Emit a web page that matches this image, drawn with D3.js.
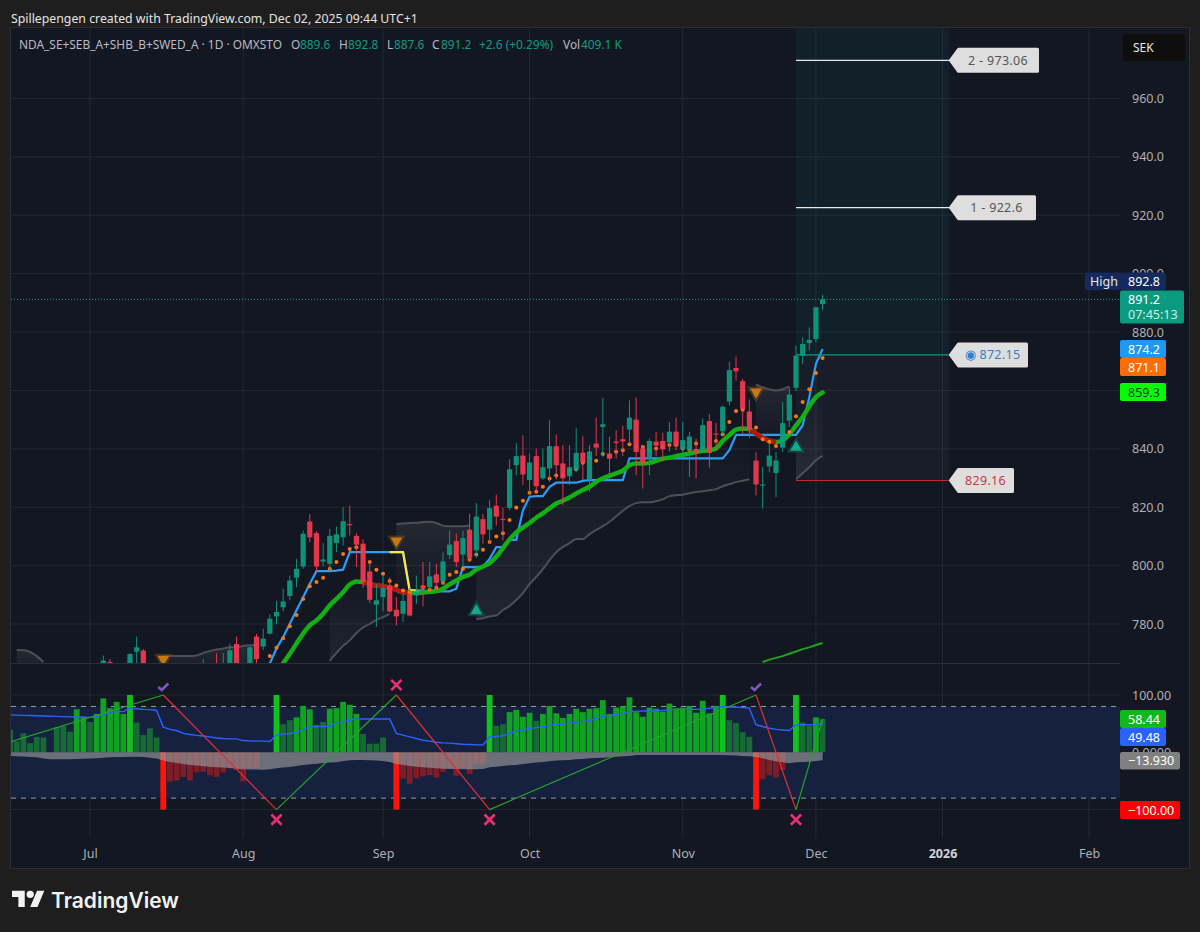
<!DOCTYPE html>
<html>
<head>
<meta charset="utf-8">
<script src="https://cdn.jsdelivr.net/npm/d3@7/dist/d3.min.js"></script>
<style>
  html, body { margin: 0; padding: 0; background: #1e1e1e; }
  svg { display: block; font-family: "Noto Sans", sans-serif; }
</style>
</head>
<body>
<svg id="chart" width="1200" height="932"></svg>
<script>
// bar number on the x axis, 0 = first bar on the left, 122 = Dec 2
const tickBars = [12, 35, 56, 78, 101, 121, 140, 162]
const tickLabels = ["Jul", "Aug", "Sep", "Oct", "Nov", "Dec", "2026", "Feb"]
const priceTicks = [780, 800, 820, 840, 860, 880, 900, 920, 940, 960]
const oscTicks = [100, 0, -100]

// candles that reach into the visible part of the price pane
const candleBars = [14, 15, 18, 19, 20, 29, 31, 32, 33, 34, 36, 37].concat(d3.range(38, 123))
const opens = [
  766, 767, 765, 770.5, 770.9, 764, 766, 762, 765, 773.2, 766, 775.7,
  772.3, 776.7, 782.6, 785.7, 789.6, 795.9, 799.7, 815.1, 811.1, 801.4,
  800.6, 807.7, 809.7, 814.2, 810.2, 807.5, 798, 786.6, 789.2, 793.2,
  784.9, 783.5, 790.1, 789.8, 793.2, 792.6, 797, 794.7, 803.6, 808.4,
  803.8, 812.3, 805.2, 815.9, 812.3, 820.5, 816, 819.8, 834.4, 837.7,
  829.3, 837.5, 829.9, 833.3, 840.9, 835, 830.6, 833, 838.7, 829.3,
  841.8, 847.5, 838.4, 842.5, 843.3, 846.6, 850, 840.1, 836.6, 842.5,
  842.7, 842.2, 845.9, 840, 839.5, 839.9, 839.5, 849.5, 845.2, 846,
  856.2, 867.7, 863.2, 852.8, 836, 827.4, 834, 831.7, 840.4, 849.7,
  860.9, 871.9, 876.2, 877.6, 889.6
]
const highs = [
  769.2, 768, 770, 775.7, 771.5, 768, 770, 770, 773.2, 775.7, 772.3, 776.6,
  778.4, 783.3, 787.9, 792.1, 796.6, 802.3, 812, 817.7, 811.8, 807.7,
  812.6, 813.4, 820, 820.6, 811.1, 809, 801.8, 793.6, 796.6, 796,
  789.2, 790.4, 792.4, 796.6, 801.2, 801.2, 800.6, 804.6, 812, 810.9,
  812, 817.7, 821.4, 817.7, 822.5, 824.3, 819.8, 836.5, 842, 844.7,
  838.4, 840.1, 840.1, 849.8, 844.9, 841.3, 841.3, 847.2, 844.3, 841.3,
  850.7, 857.4, 844.1, 846.4, 847.9, 856.6, 857.6, 840.9, 843.5, 845.8,
  845.5, 849.2, 850.7, 849.2, 845.8, 843.5, 850.4, 851.9, 848.9, 854.9,
  869.9, 871.6, 864, 856.9, 838.9, 833.8, 841.7, 838.9, 856, 861.1,
  875.4, 878.2, 881.6, 888.6, 892.8
]
const lows = [
  765, 765, 764, 765, 765, 763, 762, 760, 764, 764, 765, 766,
  771, 776.4, 779.9, 784.4, 788.1, 792.6, 798.9, 808, 798.1, 799.7,
  798.6, 804.6, 806.9, 810.3, 799.5, 792.4, 787.2, 779, 784.4, 784.1,
  779.5, 780.7, 782.6, 786.9, 786, 791.5, 791.5, 793.6, 802.3, 799.5,
  799.5, 801.2, 802.7, 807.5, 807.5, 813.7, 808.6, 819, 831, 827.6,
  824.2, 825, 829.3, 828.7, 829.5, 820.7, 827.6, 832.1, 829.3, 825.3,
  837.5, 837.3, 829.3, 836.7, 837.5, 841.6, 831, 826.4, 831, 837.5,
  835.9, 839, 839.5, 837.3, 830.4, 829.9, 838.6, 833.6, 839.3, 844.7,
  854.9, 863.4, 845.2, 843.8, 824.1, 819.5, 832, 823.5, 838.9, 847.4,
  859.8, 869.1, 873.7, 876.5, 887.6
]
const closes = [
  767.5, 765.5, 769.7, 772, 766, 766, 763, 766, 771, 765, 772, 768,
  775, 781.8, 784.1, 787.7, 794.9, 798.9, 810.9, 809.7, 799.7, 802.1,
  810.2, 810.7, 815.2, 813.8, 807.2, 794.4, 788.3, 788.1, 792.3, 784.3,
  782.6, 787.9, 782.9, 790.9, 792.3, 796.3, 794.1, 801.4, 807.2, 801.2,
  809.4, 802.7, 816.8, 810.7, 819.7, 816.8, 815.7, 833, 837.5, 831.2,
  835.3, 827.2, 833.7, 840.9, 834.4, 829.9, 833.7, 838.6, 835.3, 839.1,
  840.4, 848.4, 836.6, 842, 842.5, 850.7, 838.9, 835.3, 842.7, 841.1,
  839.8, 845.9, 841, 843, 844.2, 838.7, 848.1, 838.6, 844.9, 854.4,
  867, 866.6, 853.7, 846.5, 827.8, 827.8, 837.7, 836, 848.8, 858.6,
  871.9, 875.9, 877.3, 888.5, 891.2
]

// blue stepped line, bars 39..122
const stepStart = 39
const stepLine = [
  766.5, 771.6, 775.5, 780.1, 784.7, 789.2, 793.8, 798.1, 798.1, 798.1, 798.3, 798.6,
  804.6, 804.6, 804.6, 804.6, 804.6, 804.6, 804.6, 804.6, 804.6, 791.5, 791.5, 791.5,
  791.2, 791.2, 791.2, 791.2, 792.1, 799.5, 799.5, 799.5, 799.7, 802.3, 806.3, 806.3,
  808.8, 808.8, 818.9, 823.6, 823.8, 823.8, 827, 828.4, 828.4, 828.4, 828.4, 829,
  829.3, 829.3, 829.3, 829.3, 829.3, 829.3, 836.7, 836.7, 836.7, 836.7, 836.7, 836.7,
  836.7, 836.7, 836.7, 836.7, 836.7, 836.7, 836.7, 836.7, 836.7, 839.5, 844.8, 844.8,
  844.8, 844.8, 844.8, 844.8, 844.8, 844.8, 844.8, 844.8, 848, 857.7, 869.1, 874.2
]
const yellowBars = [57, 61]

// thick moving average, bars 41..122
const maStart = 41
const maLine = [
  766.5, 769.8, 773.3, 776.7, 779.5, 781.2, 783.5, 786.4, 788.6, 790.9, 793.5, 794.6,
  794.4, 793.6, 793.2, 792.9, 792.4, 791.7, 790.9, 790.6, 790.6, 790.8, 791, 791.3,
  792.1, 793.6, 794.9, 796.1, 796.9, 798.6, 799.7, 800.8, 803, 806, 809, 811.4,
  813, 814.6, 816.4, 817.9, 819.6, 821.3, 822.2, 823.3, 824.7, 825.9, 827, 828.7,
  829.9, 830.8, 831.6, 832.5, 834.4, 835, 835, 835.2, 835.9, 836.6, 837, 837.5,
  837.9, 838.4, 838.9, 839.3, 839.5, 840.1, 842.7, 844.7, 846.6, 847, 846.8, 845.2,
  843.8, 842.7, 842.3, 842.9, 844.9, 848, 850.9, 854.5, 857.7, 859.3
]
const maRedBars = [[53, 60], [111, 115]]

// orange dots, bars 39..122
const dotStart = 39
const dotLine = [
  769, 771.9, 775.1, 779.2, 783.1, 788.6, 792.9, 794.4, 795.8, 798.9, 801.2, 804,
  805.7, 806.3, 805.7, 801.2, 798.6, 797.2, 794.7, 793.2, 791.5, 790.9, 790.9, 792.6,
  791.7, 792.4, 794.1, 796.9, 797.8, 798.9, 802.1, 803.8, 805.4, 808.1, 810, 811.1,
  815.6, 819.9, 822.2, 825, 825.3, 827, 829.8, 830.9, 831, 832.7, 833, 835.2,
  837, 835.9, 838.2, 837.5, 839, 839.5, 841.6, 840.6, 840.6, 839.5, 840.1, 840.9,
  841.3, 841.3, 840.1, 839.8, 841.8, 840.1, 840.6, 842.7, 845, 849.2, 853, 853.4,
  851.5, 847.3, 843.3, 842.4, 841, 843.5, 845.8, 851.2, 856, 860.4, 866, 871.1
]

// grey band pieces, each with first bar and whether the line is above the average
const bandStarts = [1, 23, 48, 58, 70, 112, 118]
const bandIsTop = [true, true, false, true, false, true, false]
const bandValues = [
  [771.1, 771, 770.4, 769, 767],
  [768.9, 769, 769, 769, 769, 769.2, 770.1, 770.8, 771.3, 771.6, 772, 772.1, 772.5, 772.7, 772.8],
  [767.4, 770.1, 772.5, 774.4, 776.9, 778.8, 780, 781.4, 782.4, 783.5],
  [814.2, 814.4, 814.6, 814.7, 814.9, 815, 814.6, 813.7, 813.5, 813.5, 813.5, 813.7],
  [781.7, 782, 782.6, 782.9, 784.8, 786.2, 788.2, 790.6, 793.7, 796.1, 798.8, 801.9, 804.6, 806.4,
   807.7, 809.1, 809.1, 810.8, 812.2, 813.5, 815, 816.9, 818.8, 820.4, 821.4, 821.7, 821.7, 822.1,
   822.7, 823.8, 824.1, 824.3, 824.8, 825.2, 825.5, 825.8, 826.2, 827.2, 827.9, 828.6, 829.1, 829.6],
  [862.1, 861, 860.4, 860, 860.4, 861.4],
  [829.6, 831.6, 833.7, 836.1, 837.6]
]

// short green line at the bottom of the price pane, bars 113..122
const lowLineStart = 113
const lowLine = [767, 767.8, 768.4, 769, 769.8, 770.6, 771.4, 772, 772.8, 773.5]

const downBars = [23, 58, 112]
const downPrices = [768, 808.5, 859.5]
const upBars = [70, 118]
const upPrices = [784.5, 840.5]

// target box
const boxBars = [118, 141]
const targetTop = 973.06
const targetOne = 922.6
const entryPrice = 872.15
const stopPrice = 829.16

// oscillator pane, one value per bar 0..122
const histValues = [
  39, 19, 33, 16, 27, 26, 0, 44, 46, 36,
  75, 62, 53, 67, 94, 77, 88, 67, 100, 52,
  30, 42, 26, -100, -51, -49, -43, -49, -35, -34,
  -40, -43, -35, -28, -31, -51, -28, -28, 0, 0,
  100, 49, 56, 61, 81, 75, 48, 53, 76, 77,
  88, 83, 67, 32, 15, 15, 26, 0, -100, -46,
  -55, -45, -42, -40, -44, -34, -28, -41, -28, -38,
  -20, -20, 100, 46, 49, 70, 74, 62, 69, 55,
  67, 81, 68, 60, 67, 76, 70, 76, 77, 91,
  67, 78, 80, 96, 70, 62, 78, 76, 71, 85,
  77, 78, 81, 69, 90, 68, 81, 100, 56, 51,
  35, 27, -100, -47, -40, -44, -31, 0, 100, 52,
  46, 61, 58.44
]
const oscBlue = [
  65, 64.8, 64.5, 64.2, 63.8, 63.4, 63, 62.7, 62.3, 61.8,
  61.5, 61.3, 61, 62, 67, 69, 71.5, 71, 77, 76,
  75, 74.5, 73, 44, 40, 38, 33, 31, 29.5, 28.5,
  27, 25, 24, 23.5, 23.5, 20.5, 20, 19.5, 19.5, 19,
  30, 31.5, 33, 35, 40, 44, 45, 45, 46, 51,
  53, 56, 58, 58, 58, 58, 58, 58, 33, 30,
  27, 24, 21, 19.5, 17.5, 16.5, 16, 15, 14, 13.5,
  13, 12.8, 27, 27.5, 29, 33, 37, 39, 41, 43,
  45, 47, 48.5, 49.5, 51, 52.5, 54, 55, 59, 63,
  64, 66, 68, 71, 71.5, 72, 72, 72, 73, 74,
  75, 75, 75, 75, 75, 77, 78, 80, 79, 79,
  78, 77, 48, 45, 42, 40, 39, 38, 47.6, 48,
  48.2, 48.5, 49.48
]
const oscGrey = [
  -6.4, -6.8, -7.3, -8, -8.7, -11, -12.2, -12.2, -12.2, -12,
  -11.6, -11.3, -11, -10.5, -9.3, -8.5, -8.1, -8, -7.6, -7.6,
  -8, -9.3, -11, -14.5, -16.8, -18.6, -20.3, -22, -23.2, -24.4,
  -25, -26, -26.7, -27.3, -28.5, -29.6, -30, -30, -30.5, -29.6,
  -27.9, -26.7, -25.6, -23.8, -22, -21, -19.8, -18.6, -18, -17.4,
  -15, -14, -13.4, -13.4, -14, -14.5, -15, -16.8, -20.3, -22,
  -23.8, -25, -26, -27, -28, -28.5, -29, -29, -29.6, -29.6,
  -29.6, -29, -26, -25, -24, -22.7, -22, -20.3, -19.2, -18,
  -16.8, -15.7, -14.5, -14, -13.4, -12.2, -11.6, -10.5, -10, -9.3,
  -8.7, -7.6, -7, -6.4, -4.6, -4.6, -4.6, -4.6, -4.6, -4.6,
  -4.6, -4.6, -4.6, -4.6, -4.6, -4.6, -4.6, -4.6, -5.2, -5.8,
  -6.4, -7, -8.1, -10.5, -13.4, -15.7, -17.4, -19.2, -17.4, -16.8,
  -16.3, -15, -13.93
]
const zigzagBars = [0, 23, 40, 58, 72, 112, 118, 122]
const zigzagValues = [18, 100, -100, 100, -100, 100, -100, 58]
const checkBars = [23, 112]
const crossTopBars = [58]
const crossLowBars = [40, 72, 118]

const svg = d3.select("#chart")
const upColor = "#0e9b80"
const downColor = "#f23a50"
const gridColor = "#242833"
const axisText = "#adb0b8"

const paneLeft = 11, paneRight = 1120, frameRight = 1189
const mainTop = 28, mainBottom = 663, oscBottom = 838, frameBottom = 868

const x = d3.scaleLinear().domain([0, 162]).range([10.1, 1089])
const y = d3.scaleLinear().domain([960, 780]).range([98.5, 624])
const yo = d3.scaleLinear().domain([100, -100]).range([695, 809.6])

// clip paths for the two panes
const defs = svg.append("defs")
defs.append("clipPath").attr("id", "mainClip").append("rect")
  .attr("x", paneLeft).attr("y", mainTop).attr("width", paneRight - paneLeft).attr("height", mainBottom - mainTop)
defs.append("clipPath").attr("id", "oscClip").append("rect")
  .attr("x", paneLeft).attr("y", mainBottom).attr("width", paneRight - paneLeft).attr("height", oscBottom - mainBottom)

const bandTop = defs.append("linearGradient").attr("id", "bandTop").attr("x1", 0).attr("x2", 0).attr("y1", 0).attr("y2", 1)
bandTop.append("stop").attr("offset", 0).attr("stop-color", "#fff").attr("stop-opacity", 0.075)
bandTop.append("stop").attr("offset", 1).attr("stop-color", "#fff").attr("stop-opacity", 0.005)
const bandLow = defs.append("linearGradient").attr("id", "bandLow").attr("x1", 0).attr("x2", 0).attr("y1", 0).attr("y2", 1)
bandLow.append("stop").attr("offset", 0).attr("stop-color", "#fff").attr("stop-opacity", 0.005)
bandLow.append("stop").attr("offset", 1).attr("stop-color", "#fff").attr("stop-opacity", 0.06)

// frame and pane background
svg.append("rect").attr("width", 1200).attr("height", 932).attr("fill", "#1e1e1e")
svg.append("rect")
  .attr("x", paneLeft - 0.5).attr("y", mainTop - 0.5)
  .attr("width", frameRight - paneLeft + 1).attr("height", frameBottom - mainTop + 1)
  .attr("fill", "#131722").attr("stroke", "#2a2e39")

// header
svg.append("text").attr("x", 11).attr("y", 23).attr("font-size", 12.3).attr("fill", "#e4e4e4")
  .text("Spillepengen created with TradingView.com, Dec 02, 2025 09:44 UTC+1")

// grid
svg.append("g").selectAll("line").data(tickBars).join("line")
  .attr("x1", d => x(d)).attr("x2", d => x(d))
  .attr("y1", mainTop).attr("y2", oscBottom)
  .attr("stroke", gridColor)
svg.append("g").selectAll("line").data(priceTicks).join("line")
  .attr("x1", paneLeft).attr("x2", paneRight)
  .attr("y1", d => y(d)).attr("y2", d => y(d))
  .attr("stroke", gridColor)
svg.append("g").selectAll("line").data(oscTicks).join("line")
  .attr("x1", paneLeft).attr("x2", paneRight)
  .attr("y1", d => yo(d)).attr("y2", d => yo(d))
  .attr("stroke", gridColor)
svg.append("line").attr("x1", paneLeft).attr("x2", paneRight)
  .attr("y1", mainBottom + 0.5).attr("y2", mainBottom + 0.5).attr("stroke", "#2a2e39")

// axes, 860.0 sits fully behind the lime tag so it gets no label
const priceAxis = svg.append("g").attr("transform", `translate(${paneRight},0)`)
  .call(d3.axisRight(y).tickValues(priceTicks.filter(d => d != 860)).tickSize(0).tickPadding(12).tickFormat(d => d.toFixed(1)))
const oscAxis = svg.append("g").attr("transform", `translate(${paneRight},0)`)
  .call(d3.axisRight(yo).tickValues([100, 0]).tickSize(0).tickPadding(12)
    .tickFormat(d => d == 0 ? "0.0000" : d.toFixed(2)))
const timeAxis = svg.append("g").attr("transform", `translate(0,${oscBottom + 5})`)
  .call(d3.axisBottom(x).tickValues(tickBars).tickSize(0).tickPadding(6)
    .tickFormat((d, i) => tickLabels[i]))
for (const a of [priceAxis, oscAxis, timeAxis]) {
  a.select(".domain").remove()
  a.selectAll("text").attr("fill", axisText).attr("font-size", 12.5).attr("font-family", '"Noto Sans", sans-serif')
}
timeAxis.selectAll("text").filter(d => d == 140).attr("font-weight", 700).attr("fill", "#d1d4dc")

// main pane
const main = svg.append("g").attr("clip-path", "url(#mainClip)")

// target and stop boxes
main.append("rect").attr("x", x(boxBars[0])).attr("width", x(boxBars[1]) - x(boxBars[0]))
  .attr("y", mainTop).attr("height", y(entryPrice) - mainTop)
  .attr("fill", "#089981").attr("fill-opacity", 0.075)
main.append("rect").attr("x", x(boxBars[0])).attr("width", x(boxBars[1]) - x(boxBars[0]))
  .attr("y", y(entryPrice)).attr("height", y(stopPrice) - y(entryPrice))
  .attr("fill", "#8a8a8a").attr("fill-opacity", 0.055)

// grey bands, filled toward the moving average
const maAt = i => (i >= maStart && i - maStart < maLine.length) ? maLine[i - maStart] : 760
bandValues.forEach((vals, k) => {
  const pts = vals.map((v, j) => ({ bar: bandStarts[k] + j, v: v }))
  const area = d3.area().x(d => x(d.bar)).y0(d => y(d.v)).y1(d => y(maAt(d.bar))).curve(d3.curveMonotoneX)
  main.append("path").attr("d", area(pts))
    .attr("fill", bandIsTop[k] ? "url(#bandTop)" : "url(#bandLow)")
  main.append("path").datum(pts)
    .attr("d", d3.line().x(d => x(d.bar)).y(d => y(d.v)).curve(d3.curveMonotoneX))
    .attr("fill", "none").attr("stroke", "#4e4f56").attr("stroke-width", 2)
})

// blue step line with the yellow stretch
const stepPts = stepLine.map((v, j) => ({ bar: stepStart + j, v: v }))
const lineGen = d3.line().x(d => x(d.bar)).y(d => y(d.v))
main.append("path").attr("d", lineGen(stepPts))
  .attr("fill", "none").attr("stroke", "#2d9cf5").attr("stroke-width", 2.2)
main.append("path")
  .attr("d", lineGen(stepPts.filter(d => d.bar >= yellowBars[0] && d.bar <= yellowBars[1])))
  .attr("fill", "none").attr("stroke", "#ffeb3b").attr("stroke-width", 2.2)

// thick average, red where it turns down
const maPts = maLine.map((v, j) => ({ bar: maStart + j, v: v }))
const maGen = d3.line().x(d => x(d.bar)).y(d => y(d.v)).curve(d3.curveMonotoneX)
main.append("path").attr("d", maGen(maPts))
  .attr("fill", "none").attr("stroke", "#12b015").attr("stroke-width", 4.5).attr("stroke-linecap", "round")
maRedBars.forEach(r => {
  main.append("path").attr("d", maGen(maPts.filter(d => d.bar >= r[0] && d.bar <= r[1])))
    .attr("fill", "none").attr("stroke", "#b91414").attr("stroke-width", 4.5)
})

// short green line
main.append("path").attr("d", lineGen(lowLine.map((v, j) => ({ bar: lowLineStart + j, v: v }))))
  .attr("fill", "none").attr("stroke", "#1aa61a").attr("stroke-width", 2)

// dots
main.append("g").selectAll("circle").data(dotLine).join("circle")
  .attr("cx", (d, j) => x(dotStart + j)).attr("cy", d => y(d))
  .attr("r", 2).attr("fill", "#f57c14")

// candles
const candles = main.append("g").attr("opacity", 0.94)
candleBars.forEach((bar, i) => {
  const col = closes[i] >= opens[i] ? upColor : downColor
  candles.append("line")
    .attr("x1", x(bar)).attr("x2", x(bar))
    .attr("y1", y(highs[i])).attr("y2", y(lows[i]))
    .attr("stroke", col).attr("stroke-width", 1)
  const top = y(Math.max(opens[i], closes[i]))
  const bot = y(Math.min(opens[i], closes[i]))
  candles.append("rect")
    .attr("x", x(bar) - 2.6).attr("width", 5.2)
    .attr("y", top).attr("height", Math.max(bot - top, 1))
    .attr("fill", col)
})

// triangle markers
const tri = d3.symbol().type(d3.symbolTriangle)
downBars.forEach((bar, i) => {
  const g = main.append("g").attr("transform", `translate(${x(bar)},${y(downPrices[i])}) rotate(180)`)
  g.append("path").attr("d", tri.size(150)()).attr("fill", "#6a4a20").attr("fill-opacity", 0.55)
  g.append("path").attr("d", tri.size(60)()).attr("fill", "#c9770f")
})
upBars.forEach((bar, i) => {
  const g = main.append("g").attr("transform", `translate(${x(bar)},${y(upPrices[i])})`)
  g.append("path").attr("d", tri.size(150)()).attr("fill", "#0f5a50").attr("fill-opacity", 0.6)
  g.append("path").attr("d", tri.size(60)()).attr("fill", "#12a98c")
})

// last price line
svg.append("line").attr("x1", paneLeft).attr("x2", paneRight)
  .attr("y1", y(891.2)).attr("y2", y(891.2))
  .attr("stroke", "#12a98c").attr("stroke-dasharray", "1,2")

// target lines and their labels
const lineEnd = x(boxBars[1]) + 3
function levelLine(price, col) {
  svg.append("line").attr("x1", x(boxBars[0])).attr("x2", lineEnd)
    .attr("y1", y(price)).attr("y2", y(price)).attr("stroke", col).attr("stroke-width", 1.2)
}
levelLine(targetTop, "#e8e8e8")
levelLine(targetOne, "#e8e8e8")
levelLine(entryPrice, "#0e9b80")
levelLine(stopPrice, "#c62828")

function callout(price, w, txt, col) {
  const cy = y(price), h = 22, left = 958.5, tip = 950.5
  svg.append("path")
    .attr("d", `M${tip},${cy}L${left},${cy - h / 2}H${left + w - 3}V${cy + h / 2}H${left}Z`)
    .attr("fill", "#dedede").attr("stroke", "#dedede").attr("stroke-linejoin", "round").attr("stroke-width", 3)
  svg.append("text").attr("x", left + w / 2 - 1.5).attr("y", cy + 4.5)
    .attr("text-anchor", "middle").attr("font-size", 12.5).attr("letter-spacing", "0.3px").attr("fill", col).text(txt)
}
callout(targetTop, 82, "2 - 973.06", "#555")
callout(targetOne, 79, "1 - 922.6", "#555")
callout(entryPrice, 71, "◉ 872.15", "#2f7fd0")
callout(stopPrice, 57, "829.16", "#d0353b")

// oscillator pane
const osc = svg.append("g").attr("clip-path", "url(#oscClip)")
osc.append("rect").attr("x", paneLeft).attr("width", paneRight - paneLeft)
  .attr("y", yo(80)).attr("height", yo(-80) - yo(80))
  .attr("fill", "#16213f")
osc.append("g").selectAll("line").data([80, -80]).join("line")
  .attr("x1", paneLeft).attr("x2", paneRight)
  .attr("y1", d => yo(d)).attr("y2", d => yo(d))
  .attr("stroke", "#9a9a9a").attr("stroke-dasharray", "5,5")

function histColor(v) {
  if (v >= 100) return "#12c21c"
  if (v >= 60) return "#10a322"
  if (v > 0) return "#166b35"
  if (v <= -100) return "#ff1408"
  return "#7f1c26"
}
osc.append("g").selectAll("rect").data(histValues).join("rect")
  .attr("x", (d, i) => x(i) - 2.9).attr("width", 5.8)
  .attr("y", d => Math.min(yo(d), yo(0)))
  .attr("height", d => Math.abs(yo(d) - yo(0)))
  .attr("fill", histColor)

osc.append("path").datum(oscGrey)
  .attr("d", d3.area().x((d, i) => x(i)).y0(yo(0)).y1(d => yo(d)))
  .attr("fill", "#9a9a9a").attr("fill-opacity", 0.65)

osc.append("path").datum(oscBlue)
  .attr("d", d3.line().x((d, i) => x(i)).y(d => yo(d)))
  .attr("fill", "none").attr("stroke", "#2962ff").attr("stroke-width", 1.4)

// zigzag, green going up and red going down
for (let i = 0; i < zigzagBars.length - 1; i++) {
  osc.append("line")
    .attr("x1", x(zigzagBars[i])).attr("x2", x(zigzagBars[i + 1]))
    .attr("y1", yo(zigzagValues[i])).attr("y2", yo(zigzagValues[i + 1]))
    .attr("stroke", zigzagValues[i + 1] > zigzagValues[i] ? "#26a32c" : "#e03131")
    .attr("stroke-width", 1.2)
}

// check and cross markers
svg.append("g").selectAll("path").data(checkBars).join("path")
  .attr("transform", d => `translate(${x(d)},${yo(100) - 8})`)
  .attr("d", "M-5,0L-1.5,3L5,-3.5")
  .attr("fill", "none").attr("stroke", "#7e57c2").attr("stroke-width", 2.6)
const crossSym = d3.symbol().type(d3.symbolX).size(70)
svg.append("g").selectAll("path").data(crossTopBars).join("path")
  .attr("transform", d => `translate(${x(d)},${yo(100) - 10})`)
  .attr("d", crossSym()).attr("fill", "none").attr("stroke", "#ec2f72").attr("stroke-width", 2.6)
svg.append("g").selectAll("path").data(crossLowBars).join("path")
  .attr("transform", d => `translate(${x(d)},${yo(-100) + 10})`)
  .attr("d", crossSym()).attr("fill", "none").attr("stroke", "#ec2f72").attr("stroke-width", 2.6)

// legend line, each piece placed where the reference has it
const legendText = ["NDA_SE+SEB_A+SHB_B+SWED_A · 1D · OMXSTO", "O", "889.6", "H", "892.8", "L", "887.6", "C", "891.2", "+2.6 (+0.29%)", "Vol", "409.1 K"]
const legendX = [19, 291, 300, 339, 348, 387, 394, 432, 441, 479, 563, 581]
const legend = svg.append("g").attr("font-size", 11.9)
legendText.forEach((t, i) => {
  const isValue = i == 2 || i == 4 || i == 6 || i >= 8 && i != 10
  legend.append("text").attr("x", legendX[i]).attr("y", 49)
    .attr("fill", isValue ? upColor : "#b8bbc4").text(t)
})

// SEK box
svg.append("rect").attr("x", 1123).attr("y", 34).attr("width", 62).attr("height", 27).attr("rx", 3).attr("fill", "#0e0e0e")
svg.append("text").attr("x", 1133).attr("y", 52).attr("font-size", 12).attr("fill", "#e8e8e8").text("SEK")

// scale tags
function tag(left, top, w, h, bg, fg, txt, txtLeft) {
  svg.append("rect").attr("x", left).attr("y", top).attr("width", w).attr("height", h).attr("rx", 2).attr("fill", bg)
  svg.append("text").attr("x", left + (txtLeft || 8)).attr("y", top + h / 2 + 4.5)
    .attr("font-size", 12.5).attr("fill", fg).text(txt)
}
tag(1085, 272.5, 35, 17.5, "#14295c", "#e8e8e8", "High", 5)
tag(1120, 272.5, 46, 17.5, "#14295c", "#fff", "892.8")
svg.append("rect").attr("x", 1120).attr("y", 290.5).attr("width", 64).attr("height", 33).attr("rx", 2).attr("fill", "#0a9a80")
svg.append("text").attr("x", 1128).attr("y", 304).attr("font-size", 12.5).attr("fill", "#fff").text("891.2")
svg.append("text").attr("x", 1128).attr("y", 318.5).attr("font-size", 12.5).attr("fill", "#d5ece7").text("07:45:13")
tag(1120, 340, 46, 18, "#2196f3", "#fff", "874.2")
tag(1120, 358, 46, 18, "#ff6d00", "#fff", "871.1")
tag(1120, 383, 46, 18, "#00ff00", "#0b3b0b", "859.3")
tag(1120, 710, 46, 18, "#10b81c", "#fff", "58.44")
tag(1120, 728, 46, 18, "#2962ff", "#fff", "49.48")
tag(1120, 752, 60, 17.5, "#808080", "#fff", "−13.930")
tag(1120, 801, 60, 18, "#ff0000", "#fff", "−100.00")

// footer logo
const logo = svg.append("g").attr("transform", "translate(12,887) scale(0.91)").attr("fill", "#f2f2f2")
logo.append("path").attr("d", "M14 22H7V11H0V4h14v18zM28 22h-8l7.5-18h8L28 22z")
logo.append("circle").attr("cx", 20).attr("cy", 8).attr("r", 4)
svg.append("text").attr("x", 51).attr("y", 908).attr("font-family", "Inter, sans-serif")
  .attr("font-size", 21).attr("font-weight", 600).attr("fill", "#f2f2f2").text("TradingView")
</script>
</body>
</html>
